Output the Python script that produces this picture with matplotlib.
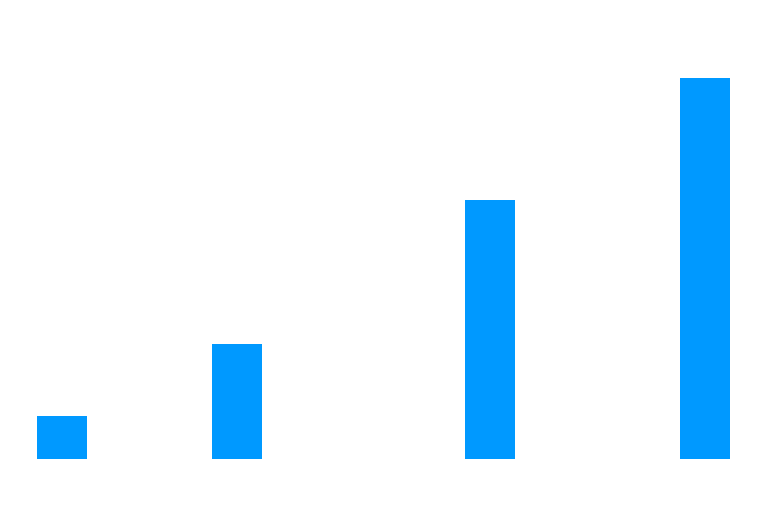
import matplotlib
matplotlib.use("Agg")
import matplotlib.pyplot as plt

# data
positions = [0, 7, 17.12, 25.72]
values = [11.3, 30.2, 68.0, 100.0]
bar_color = "#0099ff"

fig = plt.figure(figsize=(7.72, 5.05), dpi=100)
ax = fig.add_axes([0, 0, 1, 1])
ax.bar(positions, values, width=2.0, color=bar_color, linewidth=0)

ax.set_xlim(-2.48, 28.4)
ax.set_ylim(-12.07, 120.47)
ax.axis("off")

fig.savefig("out.png", dpi=100, facecolor="white")
